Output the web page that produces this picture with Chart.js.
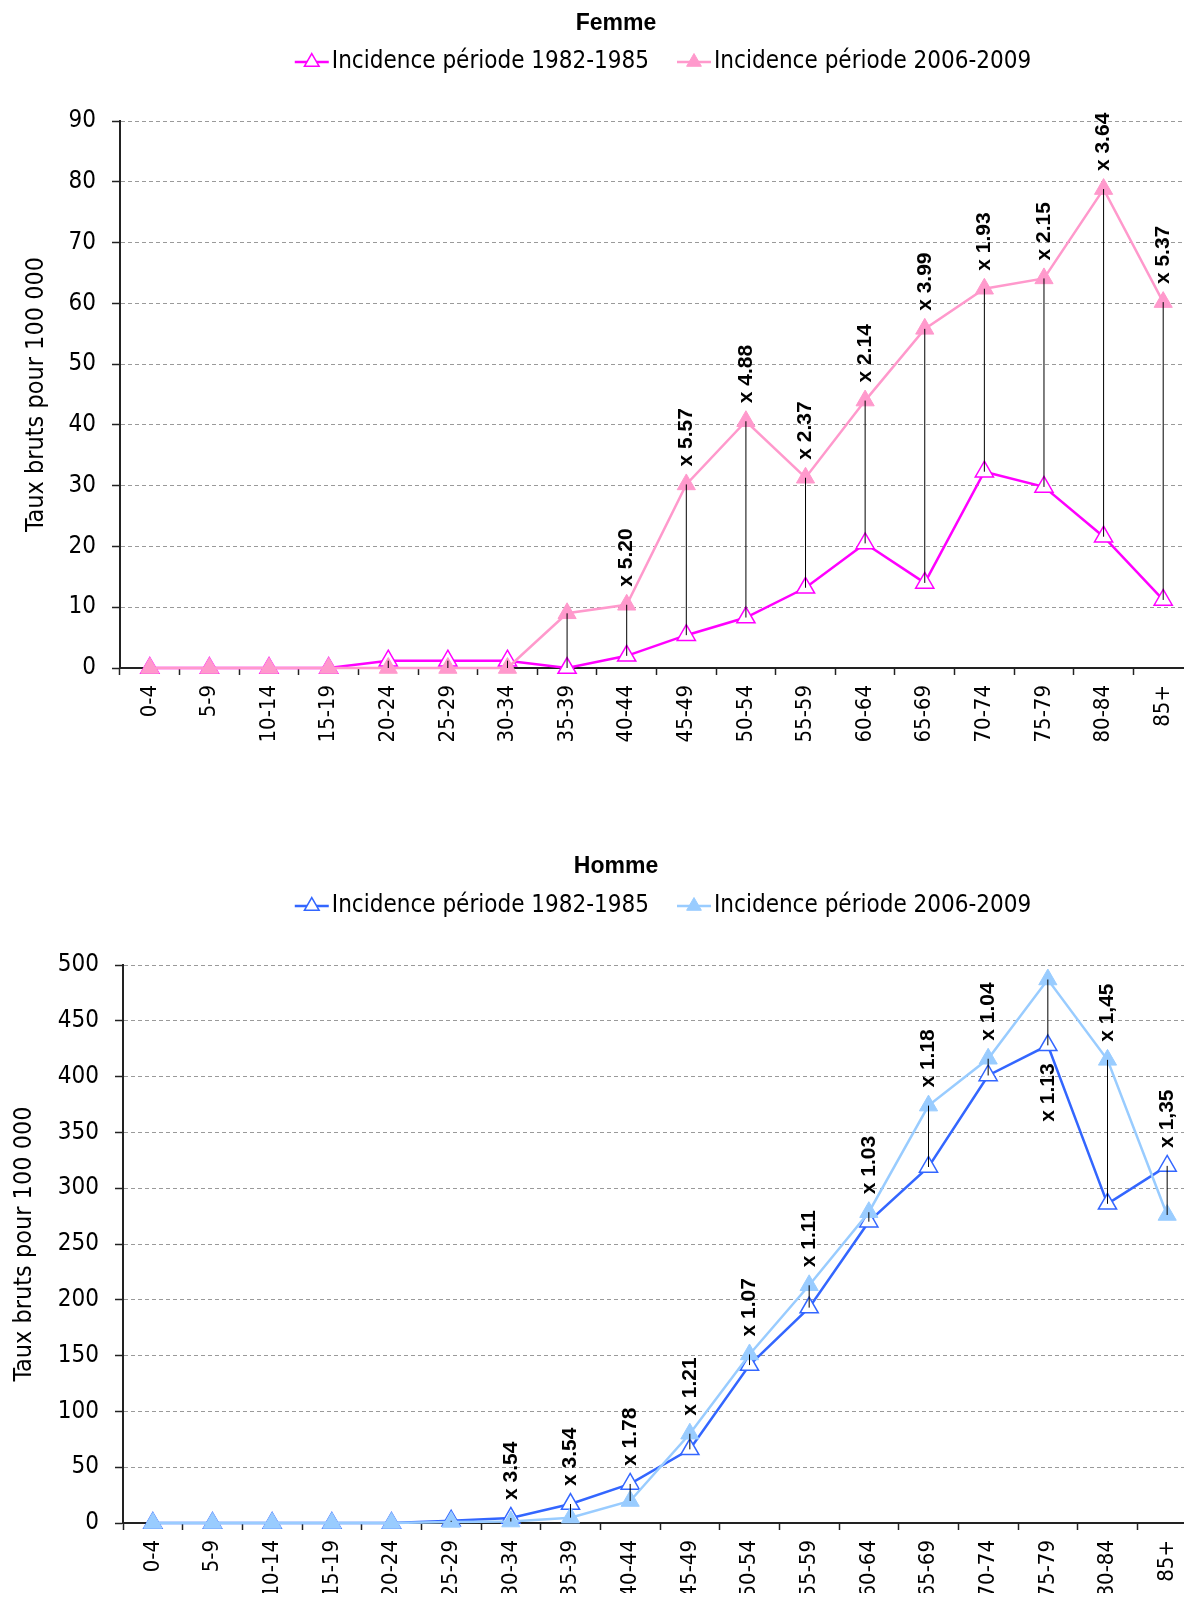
<!DOCTYPE html>
<html lang="fr">
<head>
<meta charset="utf-8">
<title>Incidence Femme / Homme</title>
<script src="https://cdn.jsdelivr.net/npm/chart.js@4.4.1/dist/chart.umd.min.js"></script>
<style>
  html, body { margin: 0; padding: 0; background: #fff; overflow: hidden; }
  .bloc { position: absolute; left: 0; width: 1210px; }
  #blocFemme { top: 0; height: 800px; }
  #blocHomme { top: 800px; height: 801px; }
</style>
</head>
<body>
<div class="bloc" id="blocFemme"><canvas id="graphFemme"></canvas></div>
<div class="bloc" id="blocHomme"><canvas id="graphHomme"></canvas></div>
<script>
// Tranches d'âge
const tranches = ['0-4', '5-9', '10-14', '15-19', '20-24', '25-29', '30-34', '35-39', '40-44',
                  '45-49', '50-54', '55-59', '60-64', '65-69', '70-74', '75-79', '80-84', '85+'];

// Femme : taux bruts pour 100 000
const femme1982 = [0, 0, 0, 0, 1.2, 1.2, 1.2, 0, 2, 5.4, 8.3, 13.2, 20.5, 14, 32.3, 29.8, 21.6, 11.2];
const femme2006 = [0, 0, 0, 0, 0, 0, 0, 9, 10.4, 30.2, 40.6, 31.3, 44, 55.8, 62.4, 64.1, 78.8, 60.2];
const femmeRapports = [null, null, null, null, null, null, null, null, 'x 5.20', 'x 5.57', 'x 4.88',
                       'x 2.37', 'x 2.14', 'x 3.99', 'x 1.93', 'x 2.15', 'x 3.64', 'x 5.37'];
const femmeGraduations = [0, 10, 20, 30, 40, 50, 60, 70, 80, 90];

// Homme : taux bruts pour 100 000
const homme1982 = [0, 0, 0, 0, 0, 2, 4.5, 17, 35, 66, 141.5, 193, 270, 319, 401, 428, 286, 320];
const homme2006 = [0, 0, 0, 0, 0, 1, 1.3, 4.8, 19.7, 80, 151, 213, 278.5, 374, 416, 487, 415, 276];
const hommeRapports = [null, null, null, null, null, null, 'x 3.54', 'x 3.54', 'x 1.78', 'x 1.21',
                       'x 1.07', 'x 1.11', 'x 1.03', 'x 1.18', 'x 1.04', 'x 1.13', 'x 1,45', 'x 1,35'];
const hommeGraduations = [0, 50, 100, 150, 200, 250, 300, 350, 400, 450, 500];

const policeTexte = '"DejaVu Sans Condensed", "DejaVu Sans", sans-serif';
const policeGras = '"Liberation Sans", Arial, sans-serif';

// Titre + légende dessinés au-dessus de la zone du graphique
const pluginEntete = {
    id: 'entete',
    afterDraw(chart, args, opts) {
        const ctx = chart.ctx;
        ctx.save();
        ctx.fillStyle = '#000';
        ctx.textBaseline = 'middle';
        ctx.textAlign = 'center';
        ctx.font = 'bold 23px ' + policeGras;
        ctx.fillText(opts.titre, opts.titreX, opts.titreY);

        ctx.font = '24px ' + policeTexte;
        const items = chart.data.datasets.map(ds => ({ ds, w: 34 + 3 + ctx.measureText(ds.label).width }));
        const total = items.reduce((s, it) => s + it.w, 0) + 28 * (items.length - 1);
        let x = opts.legendeX - total / 2;
        const y = opts.legendeY;
        items.forEach(it => {
            ctx.strokeStyle = it.ds.borderColor;
            ctx.lineWidth = 2.5;
            ctx.beginPath();
            ctx.moveTo(x, y);
            ctx.lineTo(x + 34, y);
            ctx.stroke();
            ctx.fillStyle = it.ds.pointBackgroundColor;
            ctx.strokeStyle = it.ds.pointBorderColor;
            ctx.lineWidth = it.ds.pointBorderWidth;
            Chart.helpers.drawPoint(ctx, { pointStyle: 'triangle', radius: 8.5, rotation: 0, borderWidth: it.ds.pointBorderWidth }, x + 17, y);
            ctx.fillStyle = '#000';
            ctx.textAlign = 'left';
            ctx.fillText(it.ds.label, x + 37, y);
            x += it.w + 28;
        });
        ctx.restore();
    }
};

// Traits verticaux entre les deux périodes et rapports "x n.nn"
const pluginEcarts = {
    id: 'ecarts',
    afterDatasetsDraw(chart, args, opts) {
        const { ctx, chartArea } = chart;
        const sx = chart.scales.x, sy = chart.scales.y;
        const anciens = chart.data.datasets[0].data;
        const recents = chart.data.datasets[1].data;
        ctx.save();
        ctx.strokeStyle = '#000';
        ctx.lineWidth = 1;
        for (let i = 0; i < anciens.length; i++) {
            const px = sx.getPixelForValue(i);
            ctx.beginPath();
            ctx.moveTo(px, sy.getPixelForValue(anciens[i]));
            ctx.lineTo(px, sy.getPixelForValue(recents[i]));
            ctx.stroke();
        }
        ctx.font = 'bold 21px ' + policeGras;
        ctx.fillStyle = '#000';
        ctx.textBaseline = 'middle';
        opts.rapports.forEach((txt, i) => {
            if (!txt) return;
            const px = sx.getPixelForValue(i);
            const y1 = sy.getPixelForValue(anciens[i]);
            const y2 = sy.getPixelForValue(recents[i]);
            const haut = Math.min(y1, y2), bas = Math.max(y1, y2);
            const w = ctx.measureText(txt).width;
            ctx.save();
            if (haut - 18 - w < chartArea.top - 15) {
                // pas de place au-dessus : sous le point bas
                ctx.translate(px, bas + 18);
                ctx.rotate(-Math.PI / 2);
                ctx.textAlign = 'right';
            } else {
                ctx.translate(px, haut - 18);
                ctx.rotate(-Math.PI / 2);
                ctx.textAlign = 'left';
            }
            ctx.fillText(txt, 0, 0);
            ctx.restore();
        });
        ctx.restore();
    }
};

function serie(label, data, couleur, plein) {
    return {
        label: label,
        data: data,
        borderColor: couleur,
        backgroundColor: couleur,
        borderWidth: 2.5,
        pointStyle: 'triangle',
        pointRadius: 10.5,
        pointHoverRadius: 10.5,
        pointBackgroundColor: plein ? couleur : '#fff',
        pointBorderColor: couleur,
        pointBorderWidth: plein ? 1 : 1.5,
        order: plein ? 0 : 1,
        clip: false,
        tension: 0
    };
}

function echelles(graduations, largeurAxe, hauteurAxe, padTitre) {
    return {
        x: {
            type: 'category',
            offset: true,
            grid: { display: true, drawOnChartArea: false, offset: true, tickLength: 7, tickColor: '#222', tickWidth: 1.5 },
            border: { display: true, color: '#222', width: 2 },
            ticks: {
                autoSkip: false, maxRotation: 90, minRotation: 90, padding: 10, color: '#000',
                font: { family: policeTexte, size: 22 }
            },
            afterFit: s => { s.height = hauteurAxe; }
        },
        y: {
            min: graduations[0],
            max: graduations[graduations.length - 1],
            afterBuildTicks: s => { s.ticks = graduations.map(v => ({ value: v })); },
            grid: { color: '#9a9a9a', lineWidth: 1, tickLength: 8, tickColor: '#222', tickWidth: 1.5 },
            border: { display: true, color: '#222', width: 2, dash: [4, 3] },
            ticks: { padding: 16, color: '#000', font: { family: policeTexte, size: 24 } },
            title: {
                display: true, text: 'Taux bruts pour 100 000', color: '#000',
                font: { family: policeTexte, size: 25 }, padding: { top: padTitre, bottom: 0 }
            },
            afterFit: s => { s.width = largeurAxe; }
        }
    };
}

function creerGraphique(id, titre, anciens, recents, couleurAncien, couleurRecent, rapports, graduations, cfg) {
    const ctx = document.getElementById(id).getContext('2d');
    return new Chart(ctx, {
        type: 'line',
        data: {
            labels: tranches,
            datasets: [
                serie('Incidence période 1982-1985', anciens, couleurAncien, false),
                serie('Incidence période 2006-2009', recents, couleurRecent, true)
            ]
        },
        options: {
            responsive: true,
            maintainAspectRatio: false,
            animation: false,
            events: [],
            layout: { padding: cfg.padding },
            scales: echelles(graduations, cfg.largeurAxe, cfg.hauteurAxe, cfg.padTitre),
            plugins: {
                legend: { display: false },
                title: { display: false },
                tooltip: { enabled: false },
                entete: { titre: titre, titreX: 616, titreY: cfg.titreY, legendeX: 663, legendeY: cfg.legendeY },
                ecarts: { rapports: rapports }
            }
        },
        plugins: [pluginEcarts, pluginEntete]
    });
}

creerGraphique('graphFemme', 'Femme', femme1982, femme2006, '#ff00ff', '#ff99cc', femmeRapports, femmeGraduations, {
    padding: { top: 121, left: 0, right: 17, bottom: 52 },
    largeurAxe: 120, hauteurAxe: 80, padTitre: 21, titreY: 24, legendeY: 62
});

creerGraphique('graphHomme', 'Homme', homme1982, homme2006, '#3366ff', '#99ccff', hommeRapports, hommeGraduations, {
    padding: { top: 165, left: 0, right: 13, bottom: 8 },
    largeurAxe: 123, hauteurAxe: 70, padTitre: 9, titreY: 67, legendeY: 106
});
</script>
</body>
</html>
